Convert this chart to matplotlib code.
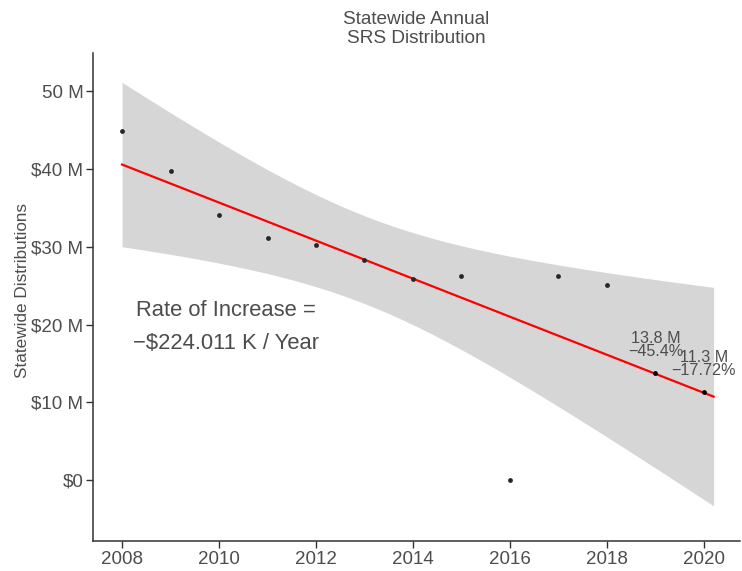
import numpy as np
import matplotlib
matplotlib.use("Agg")
import matplotlib.pyplot as plt

# annual SRS distributions (millions of dollars)
years = [2008, 2009, 2010, 2011, 2012, 2013, 2014, 2015, 2016, 2017, 2018, 2019, 2020]
dist_m = [44.85, 39.75, 34.1, 31.1, 30.2, 28.3, 25.85, 26.25, 0.0, 26.25, 25.1, 13.8, 11.3]

# trend is fitted on the years up to 2018, newer years are overlaid and labelled
fit_last_year = 2018
fit_extend_to = 2020.2
label_years = [2019, 2020]
label_text = ["13.8 M\n\u221245.4%", "11.3 M\n\u221217.72%"]
rate_text = "Rate of Increase =\n\u2212$224.011 K / Year"

y_ticks = [0, 10, 20, 30, 40, 50]
y_tick_labels = ["$0", "$10 M", "$20 M", "$30 M", "$40 M", "50 M"]
x_ticks = [2008, 2010, 2012, 2014, 2016, 2018, 2020]

TXT = "#4d4d4d"
plt.rcParams["font.family"] = ["Liberation Sans", "DejaVu Sans"]

x = np.array(years, dtype=float)
y = np.array(dist_m)
in_fit = x <= fit_last_year

# linear fit with 95% confidence band (like geom_smooth(method="lm", fullrange=TRUE))
xf, yf = x[in_fit], y[in_fit]
n = len(xf)
slope, icpt = np.polyfit(xf, yf, 1)
resid = yf - (icpt + slope * xf)
s = np.sqrt(np.sum(resid ** 2) / (n - 2))
sxx = np.sum((xf - xf.mean()) ** 2)
t_crit = 2.262  # t(0.975, df=9)
xs = np.linspace(xf.min(), fit_extend_to, 200)
fit = icpt + slope * xs
se = s * np.sqrt(1.0 / n + (xs - xf.mean()) ** 2 / sxx)

fig = plt.figure(figsize=(7.42, 5.71), dpi=100)
ax = fig.add_axes([0.1253, 0.0525, 0.8717, 0.8545])

ax.fill_between(xs, fit - t_crit * se, fit + t_crit * se, color="#d6d6d6", lw=0, zorder=1)
ax.plot(xs, fit, color="red", lw=1.6, zorder=2)
ax.scatter(x[in_fit], y[in_fit], s=12, color="#262626", zorder=3, lw=0)
ax.scatter(x[~in_fit], y[~in_fit], s=12, color="black", zorder=3, lw=0)

for yr, txt in zip(label_years, label_text):
    val = dist_m[years.index(yr)]
    ax.text(yr, val + 1.8, txt, ha="center", va="bottom", fontsize=11.6,
            color=TXT, linespacing=0.85, zorder=4)

ax.text(2010.15, 19.65, rate_text, ha="center", va="center", fontsize=15.8,
        color=TXT, linespacing=1.72)

ax.set_xlim(2007.4, 2020.74)
ax.set_ylim(-7.84, 54.9)
ax.set_xticks(x_ticks)
ax.set_yticks(y_ticks)
ax.set_yticklabels(y_tick_labels)

for side in ["top", "right"]:
    ax.spines[side].set_visible(False)
for side in ["left", "bottom"]:
    ax.spines[side].set_color("#333333")
    ax.spines[side].set_linewidth(1.1)
ax.tick_params(axis="both", direction="out", length=5, width=1, color="#333333",
               labelsize=13.5, labelcolor=TXT, pad=2)

ax.set_ylabel("Statewide Distributions", fontsize=12.3, color=TXT)
ax.yaxis.set_label_coords(-0.098, 0.514)
ax.set_title("Statewide Annual\nSRS Distribution", fontsize=13.7, color=TXT,
             pad=7, linespacing=1.2)

fig.savefig("out.png", dpi=100)
